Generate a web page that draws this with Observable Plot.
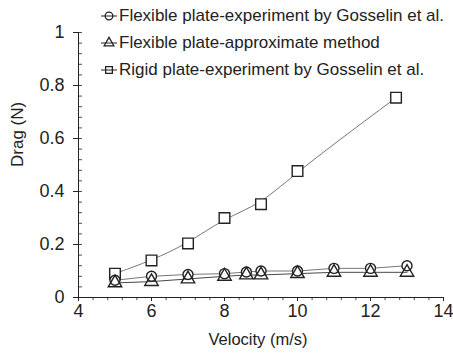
<!DOCTYPE html>
<html>
<head>
<meta charset="utf-8">
<script src="https://cdn.jsdelivr.net/npm/d3@7"></script>
<script src="https://cdn.jsdelivr.net/npm/@observablehq/plot@0.6"></script>
<style>
  html, body { margin: 0; padding: 0; background: #fff; }
  #wrap { position: relative; width: 453px; height: 353px; font-family: "Liberation Sans", Arial, sans-serif; overflow: hidden; }
  #legend { position: absolute; left: 100px; top: 2px; font-size: 17px; color: #222; white-space: nowrap; width: 400px; }
  #legend .row { display: flex; align-items: center; height: 27px; }
  #legend svg { display: block; margin-right: 1px; flex: none; }
</style>
</head>
<body>
<div id="wrap"><div id="legend"></div></div>
<script>
// Series names
const seriesNames = [
  "Flexible plate-experiment by Gosselin et al.",
  "Flexible plate-approximate method",
  "Rigid plate-experiment by Gosselin et al."
];
// Flexible plate data
const velocityFlex = [5, 6, 7, 8, 8.6, 9, 10, 11, 12, 13];
const dragFlexExp = [0.065, 0.08, 0.087, 0.09, 0.096, 0.10, 0.10, 0.11, 0.11, 0.12];
const dragFlexApprox = [0.055, 0.06, 0.07, 0.08, 0.085, 0.085, 0.09, 0.095, 0.095, 0.095];
// Rigid plate data
const velocityRigid = [5, 6, 7, 8, 9, 10, 12.7];
const dragRigid = [0.09, 0.14, 0.204, 0.30, 0.352, 0.477, 0.754];
// Axis ticks
const xTicks = [4, 6, 8, 10, 12, 14];
const yTicks = [0, 0.2, 0.4, 0.6, 0.8, 1];
const xMinor = d3.range(4, 14.001, 0.4);
const yMinor = d3.range(0, 1.0001, 0.04);

const flexExp = velocityFlex.map((v, i) => ({v, d: dragFlexExp[i]}));
const flexApp = velocityFlex.map((v, i) => ({v, d: dragFlexApprox[i]}));
const rigid = velocityRigid.map((v, i) => ({v, d: dragRigid[i]}));

const ink = "#222";
const lineCol = "#666";

const chart = Plot.plot({
  width: 453,
  height: 353,
  marginLeft: 78,
  marginRight: 10,
  marginTop: 32,
  marginBottom: 56,
  style: {fontFamily: "'Liberation Sans', Arial, sans-serif", fontSize: "18px", color: ink, background: "transparent"},
  x: {domain: [4, 14]},
  y: {domain: [0, 1]},
  marks: [
    // minor ticks
    Plot.ruleX(xMinor, {x: d => d, y1: 0, y2: -0.012, stroke: ink, strokeWidth: 0.8}),
    Plot.ruleY(yMinor, {y: d => d, x1: 4, x2: 4.11, stroke: ink, strokeWidth: 0.8}),
    Plot.axisX(xTicks, {tickSize: 4, tickPadding: 3, stroke: ink, label: null, fontSize: 18}),
    Plot.axisY(yTicks, {tickSize: 5, tickPadding: 9, stroke: ink, label: null, fontSize: 18, tickFormat: d => String(+d.toFixed(1))}),
    Plot.ruleY([0], {stroke: ink, strokeWidth: 1}),
    Plot.ruleX([4], {stroke: ink, strokeWidth: 1}),
    // lines
    Plot.line(rigid, {x: "v", y: "d", curve: "basis", stroke: lineCol, strokeWidth: 0.9}),
    Plot.line(flexExp, {x: "v", y: "d", stroke: lineCol, strokeWidth: 0.9}),
    Plot.line(flexApp, {x: "v", y: "d", stroke: "#333", strokeWidth: 0.9}),
    // markers
    Plot.dot(rigid, {x: "v", y: "d", symbol: "square", r: 6, stroke: ink, strokeWidth: 1.4, fill: "white"}),
    Plot.dot(flexExp, {x: "v", y: "d", symbol: "circle", r: 5, stroke: ink, strokeWidth: 1.4, fill: "white"}),
    Plot.dot(flexApp, {x: "v", y: "d", symbol: "triangle", r: 5, stroke: ink, strokeWidth: 1.4, fill: "none"}),
    // axis titles
    Plot.text(["Velocity (m/s)"], {frameAnchor: "bottom", dx: -3, dy: 47, text: d => d, fontSize: 16.5, fill: ink}),
    Plot.text(["Drag (N)"], {frameAnchor: "left", dx: -61, dy: 2, rotate: -90, text: d => d, fontSize: 17, fill: ink})
  ]
});
const wrap = document.getElementById("wrap");
wrap.insertBefore(chart, wrap.firstChild);

// legend
const symbols = ["circle", "triangle", "square"];
const legend = document.getElementById("legend");
const symGen = {circle: d3.symbolCircle, triangle: d3.symbolTriangle, square: d3.symbolSquare};
const symSize = {circle: Math.PI * 3.8 * 3.8, triangle: Math.PI * 3.6 * 3.6, square: Math.PI * 3.8 * 3.8};
const spans = [];
seriesNames.forEach((name, i) => {
  const row = document.createElement("div");
  row.className = "row";
  const svg = d3.create("svg").attr("width", 18).attr("height", 16);
  svg.append("line").attr("x1", 1).attr("x2", 17).attr("y1", 8).attr("y2", 8).attr("stroke", ink).attr("stroke-width", 1);
  svg.append("path").attr("transform", "translate(9,8)")
    .attr("d", d3.symbol(symGen[symbols[i]], symSize[symbols[i]])())
    .attr("fill", "none").attr("stroke", ink).attr("stroke-width", 1.3);
  row.appendChild(svg.node());
  const span = document.createElement("span");
  span.textContent = name;
  row.appendChild(span);
  legend.appendChild(row);
  spans.push(span);
});
// fit the longest legend text into the space the reference uses (~326px)
const widest = Math.max(...spans.map(s => s.getBoundingClientRect().width));
if (widest > 326) legend.style.fontSize = (17 * 326 / widest).toFixed(2) + "px";
</script>
</body>
</html>
